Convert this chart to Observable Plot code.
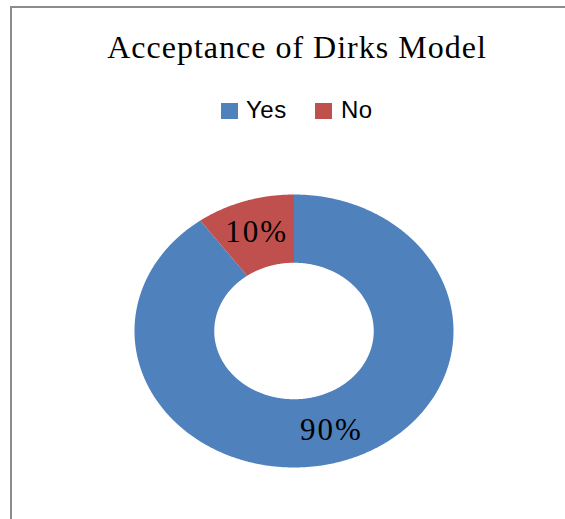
<!DOCTYPE html>
<html>
<head>
<meta charset="utf-8">
<script src="https://cdn.jsdelivr.net/npm/d3@7"></script>
<script src="https://cdn.jsdelivr.net/npm/@observablehq/plot@0.6"></script>
<style>
  html, body { margin: 0; padding: 0; background: #fff; }
  #figure { position: relative; width: 565px; height: 519px; overflow: hidden; background: #fff; }
  #frame { position: absolute; left: 10px; top: 6px; width: 600px; height: 600px;
           border-top: 2px solid #8c8c8c; border-left: 2px solid #8c8c8c; }
  #title { position: absolute; left: 297px; top: 31px; transform: translateX(-50%);
           font-family: "Liberation Serif", serif; font-size: 32px; letter-spacing: 1px;
           line-height: 1; white-space: nowrap; color: #000; }
  .key { position: absolute; top: 103px; width: 17px; height: 16px; }
  .lab { position: absolute; top: 98px; font-family: "Liberation Sans", sans-serif; font-size: 24px;
         line-height: 1; color: #000; letter-spacing: 0.5px; }
  #chart { position: absolute; left: 0; top: 140px; }
</style>
</head>
<body>
<div id="figure">
  <div id="frame"></div>
  <div id="title">Acceptance of Dirks Model</div>
  <div id="legend"></div>
  <div id="chart"></div>
</div>
<script>
// Survey answers and their shares (percent)
const answers = ["Yes", "No"];
const shares = [90, 10];
const colors = ["#4F81BD", "#C0504D"];

// Legend: coloured key squares followed by the answer names
const legendPos = [{key: 221, lab: 246}, {key: 315, lab: 341}];
const legend = document.getElementById("legend");
answers.forEach((a, i) => {
  const k = document.createElement("div");
  k.className = "key";
  k.style.left = legendPos[i].key + "px";
  k.style.background = colors[i];
  legend.appendChild(k);
  const t = document.createElement("div");
  t.className = "lab";
  t.style.left = legendPos[i].lab + "px";
  t.textContent = a;
  legend.appendChild(t);
});

// Ring geometry in unit coordinates: slices run clockwise from 12 o'clock
const inner = 0.5;
const total = d3.sum(shares);
const slices = [];
let acc = 0;
answers.forEach((a, i) => {
  const a0 = acc / total * 2 * Math.PI;
  acc += shares[i];
  const a1 = acc / total * 2 * Math.PI;
  slices.push({answer: a, value: shares[i], a0, a1});
});

const outline = [];
for (const s of slices) {
  const n = Math.max(2, Math.ceil((s.a1 - s.a0) / (Math.PI / 360)));
  for (let j = 0; j <= n; j++) {
    const t = s.a0 + (s.a1 - s.a0) * j / n;
    outline.push({answer: s.answer, x: Math.sin(t), y: Math.cos(t)});
  }
  for (let j = n; j >= 0; j--) {
    const t = s.a0 + (s.a1 - s.a0) * j / n;
    outline.push({answer: s.answer, x: inner * Math.sin(t), y: inner * Math.cos(t)});
  }
}

// Percent labels sit in the middle of each ring segment
const labelRadius = 0.76;
const labels = slices.map(s => {
  const m = (s.a0 + s.a1) / 2;
  return {text: `${s.value}%`, x: labelRadius * Math.sin(m), y: labelRadius * Math.cos(m)};
});

const chart = Plot.plot({
  width: 565,
  height: 379,
  margin: 0,
  style: {background: "transparent", letterSpacing: "2px"},
  x: {domain: [-1, 1], range: [134, 453], axis: null},
  y: {domain: [-1, 1], range: [327, 54], axis: null},
  color: {domain: answers, range: colors},
  marks: [
    Plot.line(outline, {x: "x", y: "y", z: "answer", fill: "answer", stroke: "none", curve: "linear"}),
    Plot.text(labels, {x: "x", y: "y", text: "text", fill: "#000",
      fontFamily: "Liberation Serif", fontSize: 31})
  ]
});
document.getElementById("chart").appendChild(chart);
</script>
</body>
</html>
